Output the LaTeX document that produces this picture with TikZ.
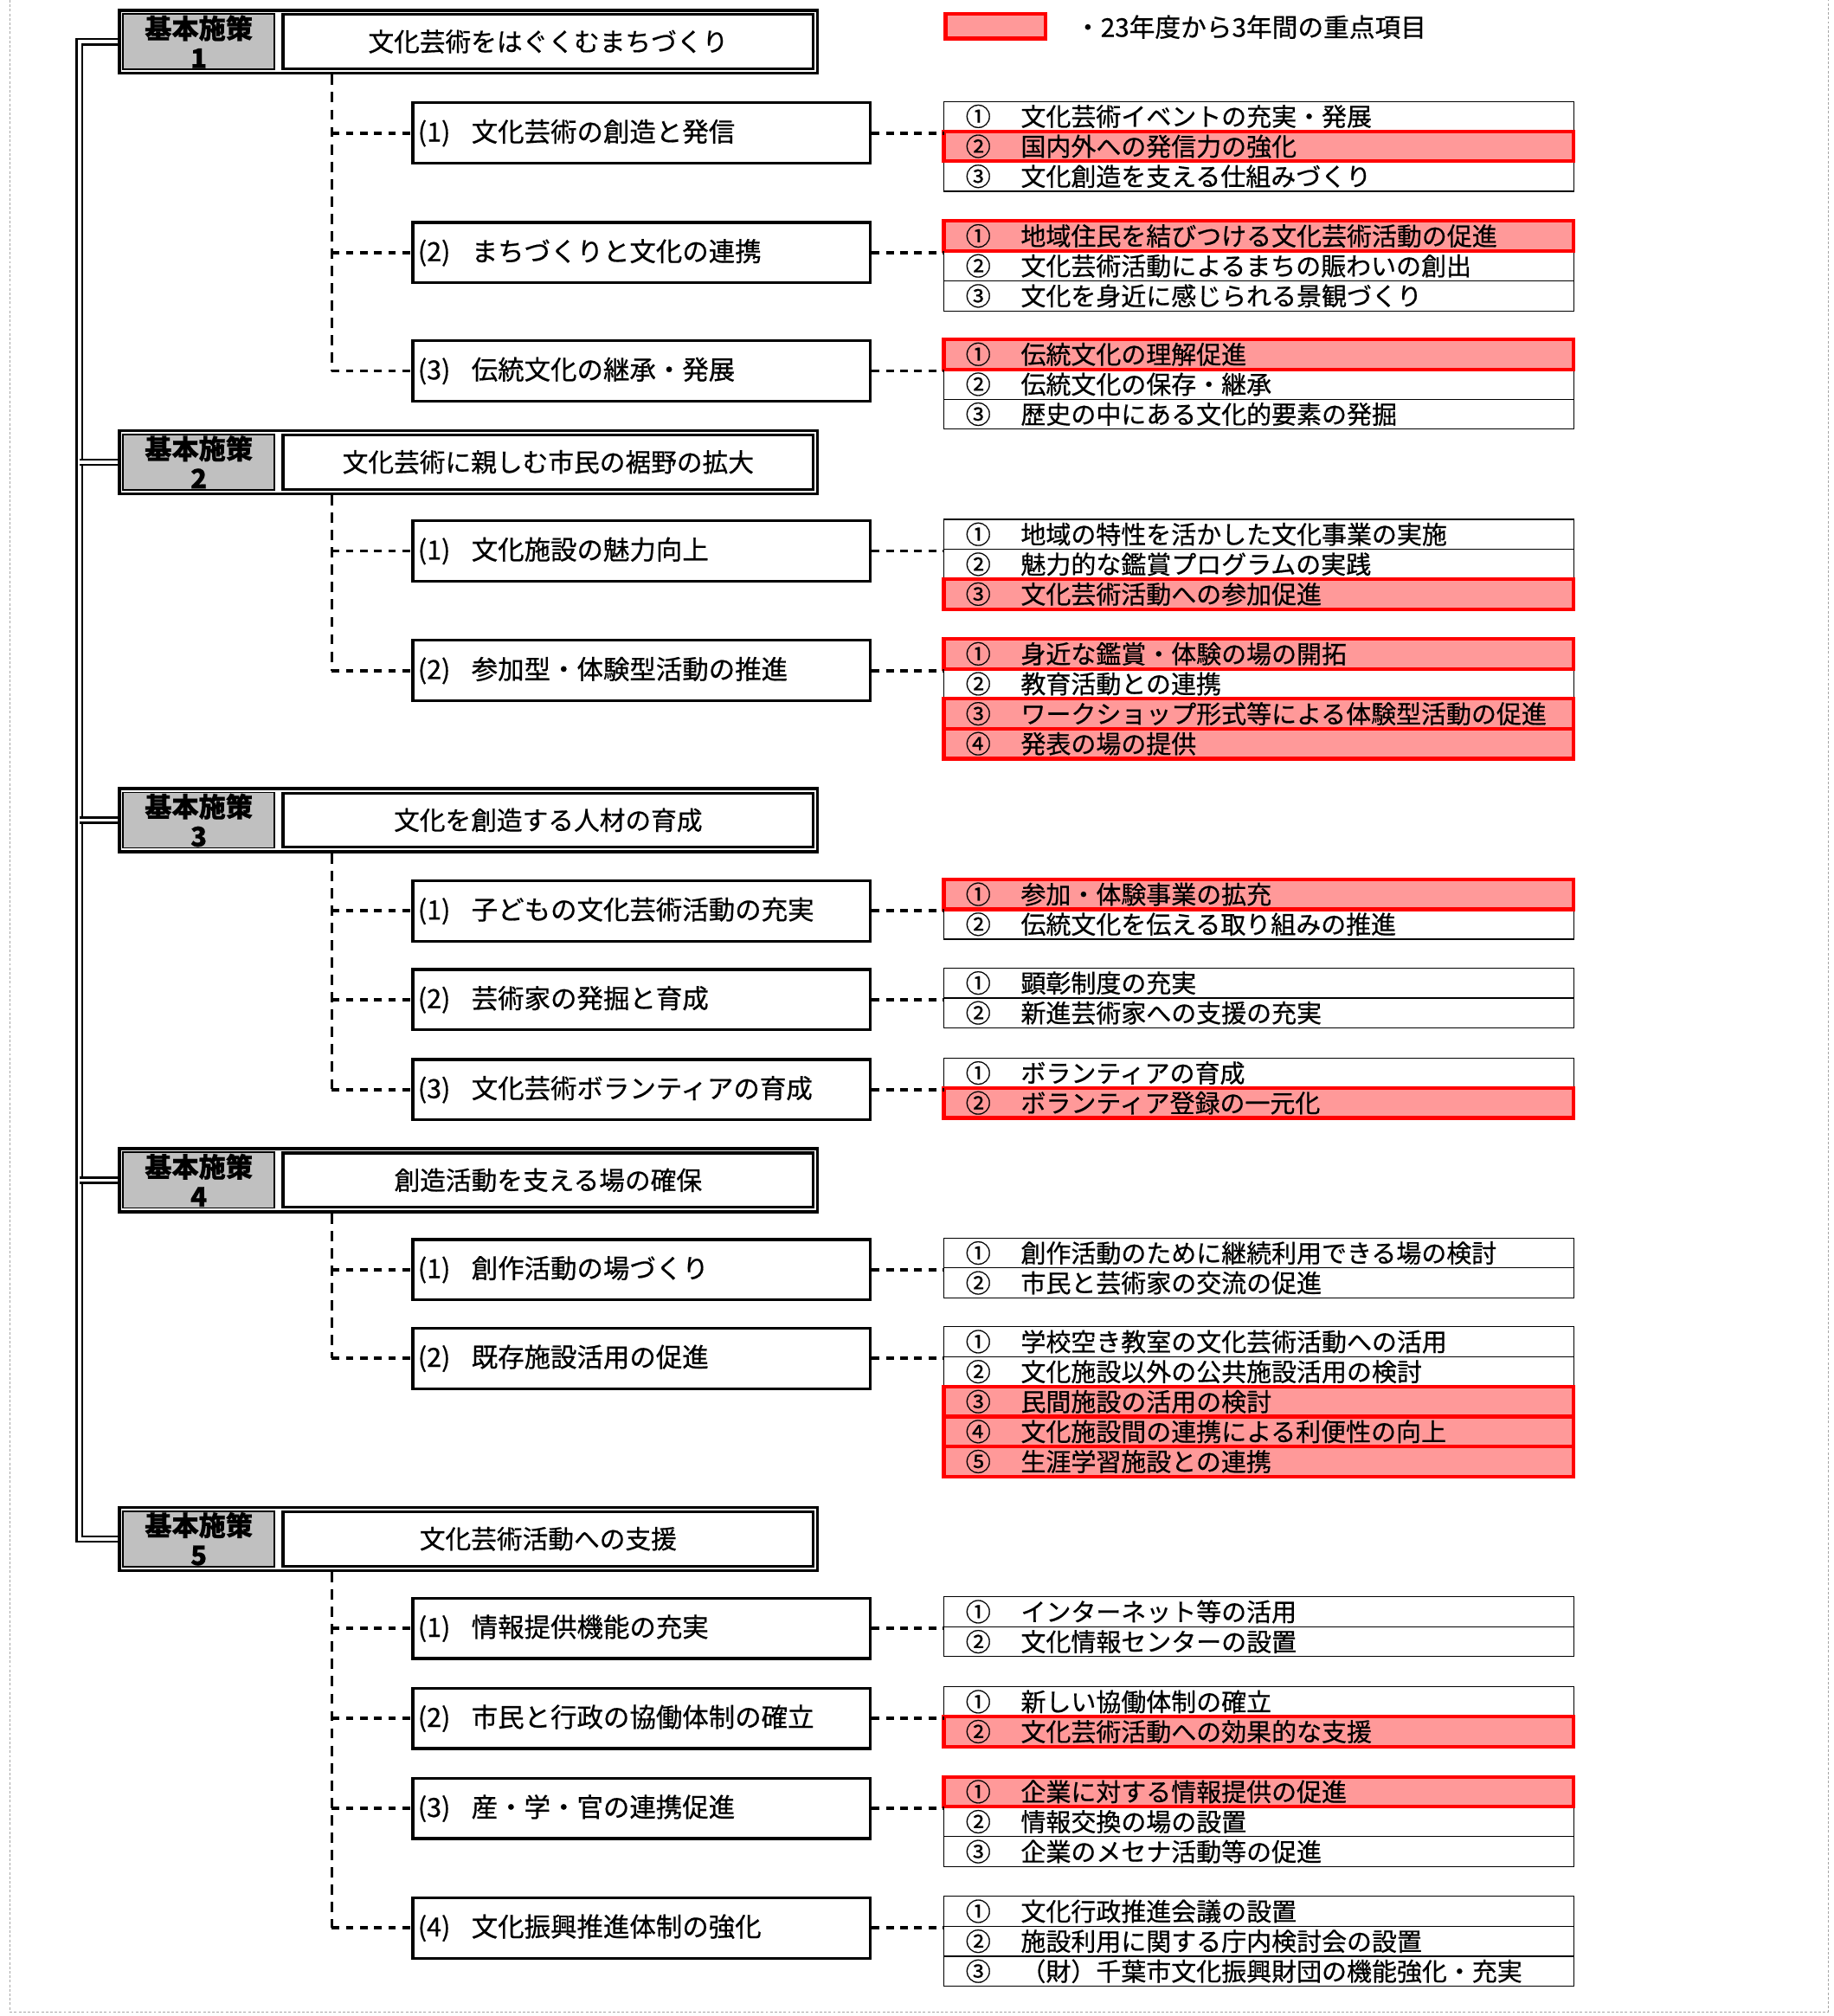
\documentclass[tikz,border=0pt]{standalone}
\usepackage{fontspec}
\setmainfont{Noto Sans CJK JP}[FakeBold=0.6]
\usepackage{tikz}
\usetikzlibrary{calc}
\definecolor{hotpink}{RGB}{255,153,153}
\definecolor{hdrgray}{RGB}{192,192,192}
\tikzstyle{hdr}=[draw,line width=2.4pt,fill=white,minimum width=543pt,minimum height=49pt,inner sep=0pt]
\tikzstyle{hdrnum}=[draw,line width=1.2pt,fill=hdrgray,minimum width=117.6pt,minimum height=43.2pt,inner sep=0pt,align=center,font=\fontsize{21}{23}\selectfont\bfseries]
\tikzstyle{hdrtitle}=[draw,line width=2.2pt,fill=white,minimum width=412.6pt,minimum height=42.2pt,inner sep=0pt,font=\fontsize{20}{24}\selectfont]
\tikzstyle{subbox}=[draw,line width=2.2pt,anchor=west,text width=348pt,inner xsep=4pt,minimum height=47pt,align=left,font=\fontsize{20.5}{24}\selectfont]
\tikzstyle{itemrow}=[draw,line width=0.8pt,anchor=north west,outer sep=0pt,text width=456pt,inner xsep=17pt,inner ysep=0pt,minimum height=23.3pt,align=left,font=\fontsize{19.5}{22}\selectfont]
\tikzstyle{hlframe}=[draw=red,line width=2.8pt]
\tikzstyle{vdash}=[line width=2pt,dash pattern=on 8pt off 5.5pt]
\tikzstyle{hdash}=[line width=2.6pt,dash pattern=on 6pt off 5pt]
\tikzstyle{trunk}=[double,line width=1.8pt,double distance=2.4pt]
\tikzstyle{pageframe}=[draw=gray!70,line width=0.8pt,dash pattern=on 2pt off 1.5pt]

\begin{document}
\begin{tikzpicture}[x=1pt,y=-1pt]
    \useasboundingbox (0,0) rectangle (1426,1568);
    % dotted page frame
    \draw[pageframe] (8,0) -- (8,1565) -- (1422,1565) -- (1422,0);

    % legend
    \node[draw=red,line width=2.8pt,fill=hotpink,minimum width=78pt,minimum height=19pt,inner sep=0pt] (lgbox) at (774.5,20.5) {};
    \node[anchor=west,inner sep=0pt,font=\fontsize{20}{22}\selectfont] (lgtxt) at (836,21) {・23年度から3年間の重点項目};

    % basic policies
    \foreach \y/\h/\num/\ttl in {32.5/h1/1/文化芸術をはぐくむまちづくり, 359.5/h2/2/文化芸術に親しむ市民の裾野の拡大, 638/h3/3/文化を創造する人材の育成, 918/h4/4/創造活動を支える場の確保, 1197/h5/5/文化芸術活動への支援}
    {
        \node[hdr] (\h) at (364.5,\y) {};
        \node[hdrnum,anchor=north west] (\h n) at ($(\h.north west)+(3.4,3.4)$) {基本施策\\\num};
        \node[hdrtitle,anchor=north east] (\h t) at ($(\h.north east)+(-3.4,3.4)$) {\ttl};
    }

    % double trunk on the left
    \coordinate (tk) at ($(h1.west)+(-30,0)$);
    \draw[trunk] (h1.west) -- (tk) -- (tk |- h5.west) -- (h5.west);
    \foreach \h in {h2,h3,h4}
        \draw[trunk] (tk |- \h.west) -- (\h.west);

    % measures
    \foreach \y/\sb/\txt in {103.5/s11/{(1)\hspace{.8em}文化芸術の創造と発信}, 196.5/s12/{(2)\hspace{.8em}まちづくりと文化の連携}, 288.5/s13/{(3)\hspace{.8em}伝統文化の継承・発展},
        428.5/s21/{(1)\hspace{.8em}文化施設の魅力向上}, 521.5/s22/{(2)\hspace{.8em}参加型・体験型活動の推進},
        708.5/s31/{(1)\hspace{.8em}子どもの文化芸術活動の充実}, 777.5/s32/{(2)\hspace{.8em}芸術家の発掘と育成}, 847.5/s33/{(3)\hspace{.8em}文化芸術ボランティアの育成},
        987.5/s41/{(1)\hspace{.8em}創作活動の場づくり}, 1056.5/s42/{(2)\hspace{.8em}既存施設活用の促進},
        1266.5/s51/{(1)\hspace{.8em}情報提供機能の充実}, 1336.5/s52/{(2)\hspace{.8em}市民と行政の協働体制の確立}, 1406.5/s53/{(3)\hspace{.8em}産・学・官の連携促進}, 1499.5/s54/{(4)\hspace{.8em}文化振興推進体制の強化}}
        \node[subbox] (\sb) at (320,\y) {\txt};

    % items of policy 1
    \foreach \fc/\no/\txt [count=\k] in {white/①/文化芸術イベントの充実・発展, hotpink/②/国内外への発信力の強化, white/③/文化創造を支える仕組みづくり}
        \node[itemrow,fill=\fc] (s11i\k) at ($(s11.north east)+(56,{(\k-1)*23.3})$) {\makebox[2.2em][l]{\no}\txt};
    \foreach \fc/\no/\txt [count=\k] in {hotpink/①/地域住民を結びつける文化芸術活動の促進, white/②/文化芸術活動によるまちの賑わいの創出, white/③/文化を身近に感じられる景観づくり}
        \node[itemrow,fill=\fc] (s12i\k) at ($(s12.north east)+(56,{(\k-1)*23.3})$) {\makebox[2.2em][l]{\no}\txt};
    \foreach \fc/\no/\txt [count=\k] in {hotpink/①/伝統文化の理解促進, white/②/伝統文化の保存・継承, white/③/歴史の中にある文化的要素の発掘}
        \node[itemrow,fill=\fc] (s13i\k) at ($(s13.north east)+(56,{(\k-1)*23.3})$) {\makebox[2.2em][l]{\no}\txt};

    % items of policy 2
    \foreach \fc/\no/\txt [count=\k] in {white/①/地域の特性を活かした文化事業の実施, white/②/魅力的な鑑賞プログラムの実践, hotpink/③/文化芸術活動への参加促進}
        \node[itemrow,fill=\fc] (s21i\k) at ($(s21.north east)+(56,{(\k-1)*23.3})$) {\makebox[2.2em][l]{\no}\txt};
    \foreach \fc/\no/\txt [count=\k] in {hotpink/①/身近な鑑賞・体験の場の開拓, white/②/教育活動との連携, hotpink/③/ワークショップ形式等による体験型活動の促進, hotpink/④/発表の場の提供}
        \node[itemrow,fill=\fc] (s22i\k) at ($(s22.north east)+(56,{(\k-1)*23.3})$) {\makebox[2.2em][l]{\no}\txt};

    % items of policy 3
    \foreach \fc/\no/\txt [count=\k] in {hotpink/①/参加・体験事業の拡充, white/②/伝統文化を伝える取り組みの推進}
        \node[itemrow,fill=\fc] (s31i\k) at ($(s31.north east)+(56,{(\k-1)*23.3})$) {\makebox[2.2em][l]{\no}\txt};
    \foreach \fc/\no/\txt [count=\k] in {white/①/顕彰制度の充実, white/②/新進芸術家への支援の充実}
        \node[itemrow,fill=\fc] (s32i\k) at ($(s32.north east)+(56,{(\k-1)*23.3})$) {\makebox[2.2em][l]{\no}\txt};
    \foreach \fc/\no/\txt [count=\k] in {white/①/ボランティアの育成, hotpink/②/ボランティア登録の一元化}
        \node[itemrow,fill=\fc] (s33i\k) at ($(s33.north east)+(56,{(\k-1)*23.3})$) {\makebox[2.2em][l]{\no}\txt};

    % items of policy 4
    \foreach \fc/\no/\txt [count=\k] in {white/①/創作活動のために継続利用できる場の検討, white/②/市民と芸術家の交流の促進}
        \node[itemrow,fill=\fc] (s41i\k) at ($(s41.north east)+(56,{(\k-1)*23.3})$) {\makebox[2.2em][l]{\no}\txt};
    \foreach \fc/\no/\txt [count=\k] in {white/①/学校空き教室の文化芸術活動への活用, white/②/文化施設以外の公共施設活用の検討, hotpink/③/民間施設の活用の検討, hotpink/④/文化施設間の連携による利便性の向上, hotpink/⑤/生涯学習施設との連携}
        \node[itemrow,fill=\fc] (s42i\k) at ($(s42.north east)+(56,{(\k-1)*23.3})$) {\makebox[2.2em][l]{\no}\txt};

    % items of policy 5
    \foreach \fc/\no/\txt [count=\k] in {white/①/インターネット等の活用, white/②/文化情報センターの設置}
        \node[itemrow,fill=\fc] (s51i\k) at ($(s51.north east)+(56,{(\k-1)*23.3})$) {\makebox[2.2em][l]{\no}\txt};
    \foreach \fc/\no/\txt [count=\k] in {white/①/新しい協働体制の確立, hotpink/②/文化芸術活動への効果的な支援}
        \node[itemrow,fill=\fc] (s52i\k) at ($(s52.north east)+(56,{(\k-1)*23.3})$) {\makebox[2.2em][l]{\no}\txt};
    \foreach \fc/\no/\txt [count=\k] in {hotpink/①/企業に対する情報提供の促進, white/②/情報交換の場の設置, white/③/企業のメセナ活動等の促進}
        \node[itemrow,fill=\fc] (s53i\k) at ($(s53.north east)+(56,{(\k-1)*23.3})$) {\makebox[2.2em][l]{\no}\txt};
    \foreach \fc/\no/\txt [count=\k] in {white/①/文化行政推進会議の設置, white/②/施設利用に関する庁内検討会の設置, white/③/（財）千葉市文化振興財団の機能強化・充実}
        \node[itemrow,fill=\fc] (s54i\k) at ($(s54.north east)+(56,{(\k-1)*23.3})$) {\makebox[2.2em][l]{\no}\txt};

    % red frames of the key items
    \foreach \n in {s11i2,s12i1,s13i1,s21i3,s22i1,s22i3,s22i4,s31i1,s33i2,s42i3,s42i4,s42i5,s52i2,s53i1}
        \draw[hlframe] (\n.north west) rectangle (\n.south east);

    % dashed connectors
    \coordinate (vx) at ($(s11.west)+(-62,0)$);
    \draw[vdash] (h1.south -| vx) -- (vx |- s13.west);
    \draw[vdash] (h2.south -| vx) -- (vx |- s22.west);
    \draw[vdash] (h3.south -| vx) -- (vx |- s33.west);
    \draw[vdash] (h4.south -| vx) -- (vx |- s42.west);
    \draw[vdash] (h5.south -| vx) -- (vx |- s54.west);
    \foreach \sb in {s11,s12,s13,s21,s22,s31,s32,s33,s41,s42,s51,s52,s53,s54}
    {
        \draw[hdash] (vx |- \sb.west) -- (\sb.west);
        \draw[hdash] (\sb.east) -- (\sb i1.west |- \sb.east);
    }
\end{tikzpicture}
\end{document}
